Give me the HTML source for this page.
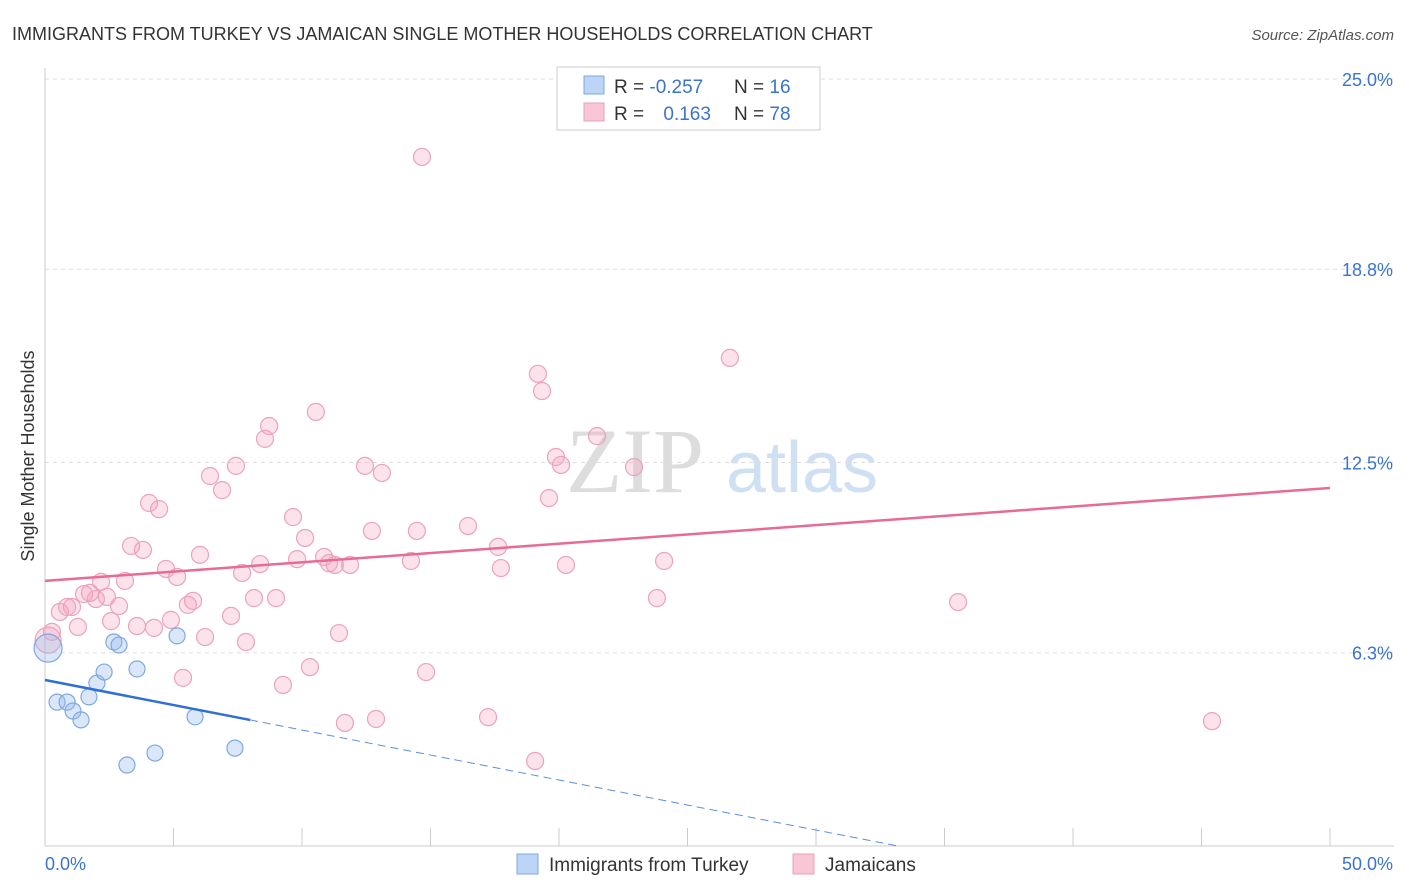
<!DOCTYPE html>
<html><head><meta charset="utf-8">
<style>
body{margin:0;background:#fff;font-family:"Liberation Sans",sans-serif;}
svg{display:block}
</style></head>
<body>
<svg id="chart" width="1406" height="892" xmlns="http://www.w3.org/2000/svg">
<text x="12" y="40" font-size="18" fill="#333">IMMIGRANTS FROM TURKEY VS JAMAICAN SINGLE MOTHER HOUSEHOLDS CORRELATION CHART</text>
<text x="1394" y="40" font-size="15" fill="#555" text-anchor="end" font-style="italic">Source: ZipAtlas.com</text>
<g>
<text x="635" y="492" font-size="92" fill="#ddd" font-family="Liberation Serif" text-anchor="middle">ZIP</text>
<text x="802" y="492" font-size="72" fill="#cfe0f3" text-anchor="middle">atlas</text>
</g>
<g id="grid"></g>
<g id="axes"></g>
<g id="marks"></g>
<text transform="translate(34,456) rotate(-90)" font-size="18" fill="#333" text-anchor="middle">Single Mother Households</text>
<g>
<rect x="557" y="67" width="263" height="63" fill="#fff" stroke="#ccc"/>
<rect x="584" y="76" width="20" height="18" fill="#bcd4f5" stroke="#7fa8e0"/>
<rect x="584" y="103" width="20" height="18" fill="#f9c6d6" stroke="#e8a0b8"/>
<text x="614" y="93" font-size="19" fill="#333">R = <tspan fill="#3b73d1">-0.257</tspan></text>
<text x="734" y="93" font-size="19" fill="#333">N = <tspan fill="#3b73d1">16</tspan></text>
<text x="614" y="120" font-size="19" fill="#333">R = <tspan fill="#3b73d1" dx="14">0.163</tspan></text>
<text x="734" y="120" font-size="19" fill="#333">N = <tspan fill="#3b73d1">78</tspan></text>
</g>
<g>
<rect x="517" y="854" width="21" height="20" fill="#bcd4f5" stroke="#7fa8e0"/>
<text x="549" y="871" font-size="19" fill="#333">Immigrants from Turkey</text>
<rect x="793" y="854" width="21" height="20" fill="#f9c6d6" stroke="#e8a0b8"/>
<text x="825" y="871" font-size="19" fill="#333">Jamaicans</text>
</g>
</svg>
<script>
const yTicks=[6.3,12.5,18.8,25.0];
const yTickLabels=["6.3%","12.5%","18.8%","25.0%"];
const xTicks=[0,5,10,15,20,25,30,35,40,45,50];
const blueX=[0.12,0.47,0.86,1.09,1.40,1.71,2.02,2.30,2.68,2.88,3.19,3.58,4.28,5.14,5.84,7.39];
const blueY=[6.45,4.69,4.69,4.40,4.11,4.86,5.31,5.67,6.65,6.55,2.64,5.77,3.03,6.85,4.21,3.19];
const pinkX=[0.12,0.27,0.58,0.86,1.05,1.28,1.52,1.75,1.98,2.18,2.41,2.57,2.88,3.11,3.35,3.58,3.81,4.05,4.24,4.44,4.71,4.90,5.14,5.37,5.56,5.76,6.03,6.23,6.42,6.89,7.24,7.43,7.67,7.82,8.13,8.37,8.56,8.72,8.99,9.26,9.65,9.81,10.12,10.31,10.54,10.86,11.05,11.28,11.44,11.67,11.87,12.45,12.72,12.88,13.11,14.24,14.47,14.67,14.83,16.46,17.24,17.63,17.74,19.07,19.18,19.34,19.61,19.88,20.08,20.27,21.48,22.92,23.81,24.09,26.65,35.53,45.41];
const pinkY=[6.71,6.98,7.63,7.79,7.79,7.14,8.21,8.25,8.05,8.61,8.12,7.33,7.82,8.64,9.78,7.17,9.65,11.18,7.11,10.98,9.03,7.37,8.77,5.48,7.86,7.99,9.49,6.81,12.06,11.60,7.50,12.39,8.90,6.65,8.08,9.19,13.27,13.69,8.08,5.25,10.72,9.35,10.04,5.83,14.15,9.42,9.22,9.16,6.94,4.01,9.16,12.39,10.27,4.14,12.16,9.29,10.27,22.46,5.67,10.43,4.20,9.75,9.06,2.77,15.39,14.83,11.34,12.68,12.42,9.16,13.36,12.35,8.08,9.29,15.91,7.95,4.07];
const blueTrend=[5.41,-0.163];
const pinkTrend=[8.64,0.0606];
const NS="http://www.w3.org/2000/svg";
const xs=v=>45+v/50*1285, ys=v=>846-v/25*767;
function mk(tag,attrs,parent){const e=document.createElementNS(NS,tag);for(const k in attrs)e.setAttribute(k,attrs[k]);parent.appendChild(e);return e;}
const grid=document.getElementById('grid'),axes=document.getElementById('axes'),marks=document.getElementById('marks');
yTicks.forEach((t,i)=>{
 const l=mk('line',{x1:45,x2:1394,y1:ys(t),y2:ys(t),stroke:'#ddd','stroke-dasharray':'4,4'},grid);
 
 
 const tx=mk('text',{x:1393,y:ys(t)+7,'font-size':18,fill:'#3b73d1','text-anchor':'end'},axes);
 tx.textContent=yTickLabels[i];
 
 
});
let a=mk('line',{x1:45,x2:45,y1:68,y2:846,stroke:'#ccc'},axes);

a=mk('line',{x1:45,x2:1394,y1:846,y2:846,stroke:'#ccc'},axes);

xTicks.forEach(t=>{
 const l=mk('line',{x1:xs(t),x2:xs(t),y1:828,y2:846,stroke:'#ccc'},axes);
 
 
});
let t0=mk('text',{x:45,y:870,'font-size':18,fill:'#3b73d1'},axes);t0.textContent="0.0%";

t0=mk('text',{x:1393,y:870,'font-size':18,fill:'#3b73d1','text-anchor':'end'},axes);t0.textContent="50.0%";

pinkX.forEach((x,i)=>{
 const c=mk('circle',{cx:xs(x),cy:ys(pinkY[i]),r:i==0?13:8.5,fill:'rgba(244,160,190,0.3)',stroke:'#eaa3bb','stroke-width':1.2},marks);
 
 
});
blueX.forEach((x,i)=>{
 const c=mk('circle',{cx:xs(x),cy:ys(blueY[i]),r:i==0?14:8,fill:'rgba(150,185,235,0.35)',stroke:'#7fa8e0','stroke-width':1.2},marks);
 
 
});
let tl=mk('line',{x1:xs(0),y1:ys(pinkTrend[0]),x2:xs(50),y2:ys(pinkTrend[0]+pinkTrend[1]*50),stroke:'#e76b96','stroke-width':2.5},marks);

const bEnd=7.98, bZero=-blueTrend[0]/blueTrend[1];
tl=mk('line',{x1:xs(0),y1:ys(blueTrend[0]),x2:xs(bEnd),y2:ys(blueTrend[0]+blueTrend[1]*bEnd),stroke:'#2f6fd6','stroke-width':2.5},marks);

tl=mk('line',{x1:xs(bEnd),y1:ys(blueTrend[0]+blueTrend[1]*bEnd),x2:xs(bZero),y2:ys(0),stroke:'#5a8fe0','stroke-width':1,'stroke-dasharray':'8,5'},marks);

</script>
</body></html>
